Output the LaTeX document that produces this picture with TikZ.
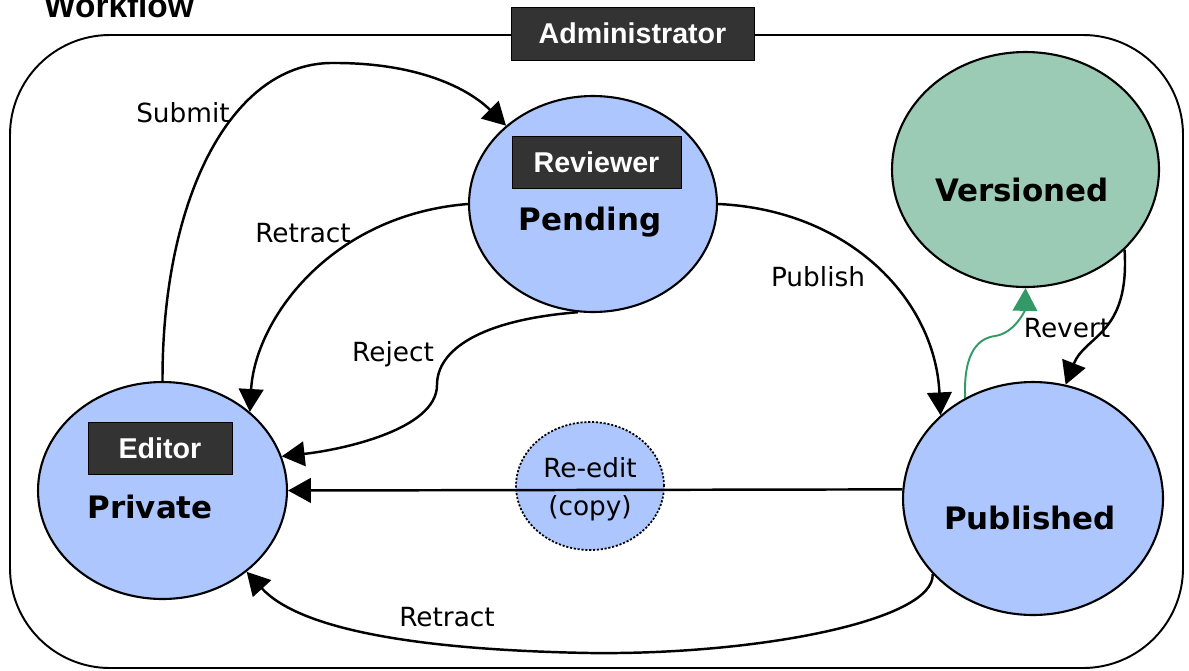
\documentclass[tikz,border=0pt]{standalone}
\usepackage{fontspec}
\setmainfont{DejaVu Sans}
\newfontfamily\boxfont{Liberation Sans}
\usepackage{tikz}
\usetikzlibrary{shapes.geometric, arrows.meta, positioning}

\definecolor{stateblue}{RGB}{173,198,253}
\definecolor{stategreen}{RGB}{155,203,181}
\definecolor{revgreen}{RGB}{51,153,102}
\definecolor{rolegray}{RGB}{51,51,51}

\begin{document}
\begin{tikzpicture}[x=0.02cm, y=-0.02cm,
	state/.style={draw, ellipse, fill=stateblue, line width=1.2pt, inner sep=0pt},
	role/.style={draw=black, fill=rolegray, text=white, inner sep=0pt,
		font=\boxfont\bfseries\fontsize{16.3}{19}\selectfont},
	title/.style={font=\fontsize{17.6}{21}\selectfont\bfseries},
	lbl/.style={font=\fontsize{15}{18}\selectfont},
	flow/.style={->, line width=1.4pt},
	>={Triangle[length=13pt, width=14pt]}]

	\useasboundingbox (0,0) rectangle (1189,670);

	% frame
	\draw[line width=1.1pt, rounded corners=2cm] (10,35) rectangle (1183,668);
	\node[anchor=base west, font=\boxfont\bfseries\fontsize{19}{22}\selectfont] (workflow) at (38,17) {Workflow};
	\node[role, minimum width=4.86cm, minimum height=1.06cm] (admin) at (632.5,33.5) {Administrator};

	% states
	\node[state, minimum width=4.96cm, minimum height=4.32cm] (pending) at (593,204) {};
	\node[state, minimum width=4.98cm, minimum height=4.34cm] (private) at (162.5,490.5) {};
	\node[state, minimum width=5.2cm, minimum height=4.66cm] (published) at (1033,498.5) {};
	\node[state, fill=stategreen, minimum width=5.34cm, minimum height=4.7cm] (versioned) at (1025.5,169.5) {};
	\node[state, densely dotted, line width=1pt, minimum width=2.96cm, minimum height=2.56cm] (reedit) at (590,486) {};

	\node[role, minimum width=3.38cm, minimum height=1.04cm] (reviewer) at (596.5,162) {Reviewer};
	\node[role, minimum width=2.88cm, minimum height=1.04cm] (editor) at (160,448) {Editor};

	\node[title] (pendingtext) at (590,222) {Pending};
	\node[title] (privatetext) at (150,507) {Private};
	\node[title] (publishedtext) at (1030,518) {Published};
	\node[title] (versionedtext) at (1022,190) {Versioned};

	% transitions
	\draw[flow] (private.north) .. controls (162,200) and (230,65) .. (330,63)
		.. controls (420,62) and (470,90) .. (pending.138);
	\draw[flow] (pending.west) .. controls (330,215) and (255,320) .. (private.42);
	\draw[flow] (pending.262) .. controls (480,320) and (437,350) .. (437,385)
		.. controls (437,430) and (340,450) .. (private.16);
	\draw[flow] (pending.east) .. controls (850,210) and (935,300) .. (published.138);
	\draw[flow] (published.176) -- (private.east);
	\draw[flow] (published.217) .. controls (935,620) and (760,655) .. (590,653)
		.. controls (420,650) and (300,630) .. (private.316);
	\draw[flow] (versioned.321) .. controls (1130,335) and (1085,335) .. (published.74);
	\draw[flow, revgreen, line width=1.1pt] (published.124) .. controls (963,350) and (980,338) .. (995,336)
		.. controls (1015,333) and (1025,310) .. (versioned.south);

	% labels
	\node[lbl] (submitlbl) at (183,113) {Submit};
	\node[lbl] (retractlbl) at (303,233) {Retract};
	\node[lbl] (rejectlbl) at (393,354) {Reject};
	\node[lbl] (publishlbl) at (818,277) {Publish};
	\node[lbl] (revertlbl) at (1067,328) {Revert};
	\node[lbl] (backlbl) at (447,617) {Retract};
	\node[lbl] (reeditlbl) at (590,468) {Re-edit};
	\node[lbl] (copylbl) at (590,508) {(copy)};
\end{tikzpicture}
\end{document}
